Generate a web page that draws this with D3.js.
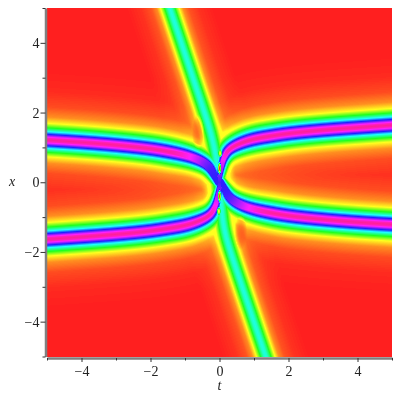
<!DOCTYPE html>
<html lang="en">
  <head>
    <meta charset="utf-8" />
    <title>Density plot</title>
    <style>
      html, body { margin: 0; background: #fff; }
      #wrap { position: relative; width: 400px; height: 400px; overflow: hidden; }
      canvas, svg { position: absolute; left: 0; top: 0; }
      text { font-family: "Liberation Serif", serif; font-size: 14px; fill: #222; }
      .axis-title { font-style: italic; }
    </style>
  </head>
  <body>
    <div id="wrap"><canvas id="plot" width="400" height="400"></canvas><svg id="axes" width="400" height="400"></svg></div>
    <script src="https://d3js.org/d3.v7.min.js"></script>
    <script>
      // Ridge lines (lower band is the upper one turned through the origin)
      const bandT = [-6, -5, -4, -3, -2, -1.43, -0.85, -0.36, -0.19, -0.04, -0.04, 0.07, 0.16, 0.3, 0.88, 1.46, 2.04, 3, 4, 5, 6]
      const bandX = [1.27, 1.21, 1.15, 1.07, 0.97, 0.87, 0.75, 0.54, 0.29, -0.05, -0.05, 0.55, 0.78, 1.0, 1.23, 1.32, 1.41, 1.5, 1.57, 1.64, 1.7]
      const bandPeak = [328, 328, 328, 328, 328, 328, 305, 258, 245, 245, 245, 290, 312, 328, 328, 328, 328, 328, 328, 328, 328]
      const bandWidth = [1, 1, 1, 1, 1, 1, 0.92, 0.78, 0.6, 0.35, 0.35, 0.5, 0.66, 0.85, 1, 1, 1, 1, 1, 1, 1]

      // Steep band, above and below the crossing
      const steepTopX = [6, 4.83, 2.33, 1.41, 0.6, 0]
      const steepTopT = [-1.78, -1.385, -0.545, -0.235, -0.07, -0.03]
      const steepLowX = [0, -0.6, -1.41, -2.33, -4.86, -6]
      const steepLowT = [-0.03, 0.05, 0.12, 0.43, 1.29, 1.68]

      // Colour level (hue) against distance from a ridge
      const bandDist = [0, 0.05, 0.1, 0.165, 0.24, 0.35, 0.48, 0.66, 0.95, 1.4, 2]
      const bandHue = [328, 318, 290, 240, 180, 120, 60, 30, 12, 3, 0]
      const steepDist = [0, 0.05, 0.11, 0.18, 0.255, 0.36, 0.52, 0.8, 1.2]
      const steepHue = [172, 165, 140, 100, 60, 30, 14, 5, 0]

      // Small patches around the crossing: t, x, half sizes, hue, strength (each also turned through the origin)
      const patchT = [0, 0.02, -0.62]
      const patchX = [0.4, 0.83, 1.44]
      const patchRT = [0.05, 0.06, 0.18]
      const patchRX = [0.2, 0.12, 0.5]
      const patchHue = [5, 60, 8]
      const patchPower = [1, 1, 0.6]

      const tTicks = d3.range(-5, 6)
      const xTicks = d3.range(-5, 6)

      const plotLeft = 47, plotRight = 392, plotTop = 8, plotBottom = 356.5
      const t = d3.scaleLinear().domain([-5, 5]).range([plotLeft, plotRight])
      const x = d3.scaleLinear().domain([-5, 5]).range([plotBottom, plotTop])

      const bandProfile = d3.scaleLinear().domain(bandDist).range(bandHue).clamp(true)
      const steepProfile = d3.scaleLinear().domain(steepDist).range(steepHue).clamp(true)

      // Smooth a ridge through its read points
      function makeLine(ts, xs, peaks, widths, n) {
        const ft = d3.interpolateBasis(ts), fx = d3.interpolateBasis(xs)
        const fp = peaks ? d3.interpolateBasis(peaks) : () => 172
        const fw = widths ? d3.interpolateBasis(widths) : () => 1
        return d3.range(n + 1).map((i) => {
          const u = i / n
          return { t: ft(u), x: fx(u), peak: fp(u), w: fw(u) }
        })
      }
      const flip = (line) => line.map((p) => ({ ...p, t: -p.t, x: -p.x })).reverse()

      const upper = makeLine(bandT, bandX, bandPeak, bandWidth, 140)
      const lower = flip(upper)
      const steep = makeLine(steepTopT.concat(steepLowT.slice(1)), steepTopX.concat(steepLowX.slice(1)), null, null, 60)

      // Colour at a distance from the closest point of a polyline
      function ridgeHue(line, pt, px, profile) {
        let best = Infinity, peak = 0
        for (let i = 0; i < line.length - 1; i++) {
          const a = line[i], b = line[i + 1]
          const dt = b.t - a.t, dx = b.x - a.x
          let u = ((pt - a.t) * dt + (px - a.x) * dx) / (dt * dt + dx * dx)
          u = Math.max(0, Math.min(1, u))
          const ct = a.t + u * dt - pt, cx = a.x + u * dx - px
          const w = a.w + u * (b.w - a.w)
          const d = Math.sqrt(ct * ct + cx * cx) / w
          if (d < best) {
            best = d
            peak = a.peak + u * (b.peak - a.peak)
          }
        }
        return Math.min(peak, profile(best))
      }

      function applyPatches(v, pt, px) {
        patchT.forEach((_, i) => {
          [1, -1].forEach((s) => {
            const a = (pt - s * patchT[i]) / patchRT[i], b = (px - s * patchX[i]) / patchRX[i]
            const near = Math.max(0, 1 - a * a - b * b) * patchPower[i]
            v = v * (1 - near) + patchHue[i] * near
          })
        })
        return v
      }

      const lut = d3.range(0, 331).map((h) => d3.rgb(d3.hsl(h, 1, 0.56)))

      const ctx = document.getElementById('plot').getContext('2d')
      const w = plotRight - plotLeft, h = Math.ceil(plotBottom - plotTop)
      const img = ctx.createImageData(w, h)
      for (let j = 0; j < h; j++) {
        for (let i = 0; i < w; i++) {
          const pt = t.invert(plotLeft + i + 0.5), px = x.invert(plotTop + j + 0.5)
          const vals = [
            ridgeHue(upper, pt, px, bandProfile),
            ridgeHue(lower, pt, px, bandProfile),
            ridgeHue(steep, pt, px, steepProfile),
          ].sort((a, b) => b - a)
          let v = vals[0]
          if (v < 60) v = Math.min(60, v + 0.6 * vals[1] + 0.3 * vals[2])
          v = applyPatches(v, pt, px)
          const c = lut[Math.round(v)]
          const k = (j * w + i) * 4
          img.data[k] = c.r
          img.data[k + 1] = c.g
          img.data[k + 2] = c.b
          img.data[k + 3] = 255
        }
      }
      ctx.putImageData(img, plotLeft, plotTop)

      const svg = d3.select('#axes')
      const fmt = (d) => (d % 2 === 0 ? d3.format('d')(d) : '')

      const gx = svg.append('g').attr('transform', 'translate(0,358)').call(d3.axisBottom(t).tickValues(tTicks).tickFormat(fmt).tickSize(4).tickSizeOuter(0))
      const gy = svg.append('g').attr('transform', `translate(${plotLeft - 1.5},0)`).call(d3.axisLeft(x).tickValues(xTicks).tickFormat(fmt).tickSize(4).tickSizeOuter(0))

      gx.select('.domain').attr('stroke', '#808080').attr('stroke-width', 2.5)
      gy.select('.domain').attr('stroke', '#808080').attr('stroke-width', 2.5)
      gx.selectAll('.tick line').attr('stroke', '#333').attr('y2', (d) => (d % 2 === 0 ? 4 : 2.5))
      gy.selectAll('.tick line').attr('stroke', '#333').attr('x2', (d) => (d % 2 === 0 ? -5 : -3))
      gx.selectAll('.tick text').attr('y', 8)
      gy.selectAll('.tick text').attr('x', -6)
      gx.attr('font-family', null).attr('font-size', null)
      gy.attr('font-family', null).attr('font-size', null)

      svg.append('text').attr('class', 'axis-title').attr('x', t(0)).attr('y', 390).attr('text-anchor', 'middle').text('t')
      svg.append('text').attr('class', 'axis-title').attr('x', 12).attr('y', x(0) + 4).attr('text-anchor', 'middle').text('x')
    </script>
  </body>
</html>
